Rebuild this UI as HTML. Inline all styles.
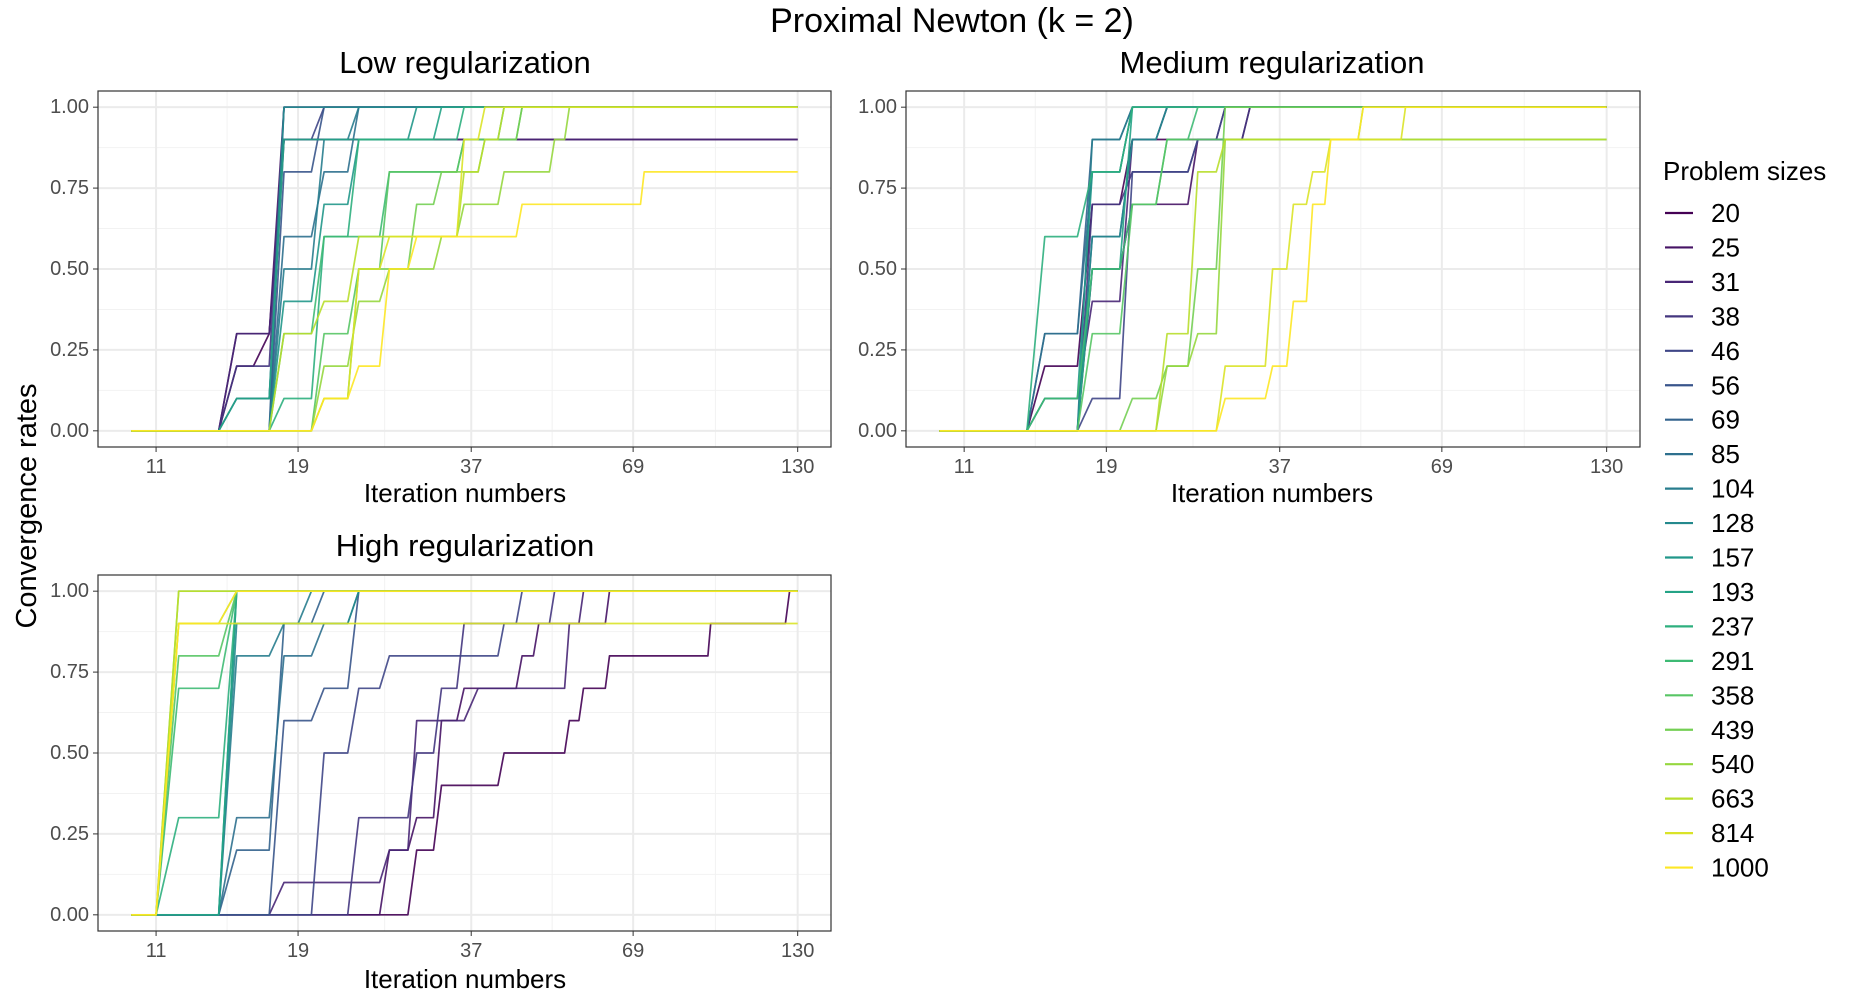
<!DOCTYPE html>
<html><head><meta charset="utf-8"><style>
html,body{margin:0;padding:0;background:#fff;}
svg{display:block;font-family:"Liberation Sans",Arial,sans-serif;}
</style></head><body>
<svg id="chart" width="1866" height="1002" viewBox="0 0 1866 1002" xmlns="http://www.w3.org/2000/svg">
<text x="952" y="32" font-size="34" text-anchor="middle" fill="#000">Proximal Newton (k = 2)</text>
<text transform="translate(27,506) rotate(-90)" font-size="29" text-anchor="middle" dominant-baseline="central" fill="#000">Convergence rates</text>
<g id="panels"></g>
<g id="legend"></g>
</svg>
<script>
const sizes = [20,25,31,38,46,56,69,85,104,128,157,193,237,291,358,439,540,663,814,1000];
const xTicks = [11,19,37,69,130];
const yTicks = [0,0.25,0.5,0.75,1];
const yTickLabels = ["0.00","0.25","0.50","0.75","1.00"];
const panelTitles = ["Low regularization","Medium regularization","High regularization"];

const lowSeries = [
 [[10,0],[14,0],[15,0.2],[16,0.2],[17,0.3],[18,0.9],[130,0.9]],
 [[10,0],[14,0],[15,0.3],[17,0.3],[18,1],[130,1]],
 [[10,0],[14,0],[15,0.3],[17,0.3],[18,0.9],[130,0.9]],
 [[10,0],[14,0],[15,0.2],[17,0.2],[18,1],[130,1]],
 [[10,0],[14,0],[15,0.1],[17,0.1],[18,0.9],[20,0.9],[21,1],[130,1]],
 [[10,0],[17,0],[18,0.8],[20,0.8],[21,1],[130,1]],
 [[10,0],[17,0],[18,1],[130,1]],
 [[10,0],[17,0],[18,0.6],[20,0.6],[21,0.8],[23,0.8],[24,1],[130,1]],
 [[10,0],[17,0],[18,0.5],[20,0.5],[21,0.9],[23,0.9],[24,1],[130,1]],
 [[10,0],[14,0],[15,0.1],[17,0.1],[18,1],[130,1]],
 [[10,0],[17,0],[18,0.4],[20,0.4],[21,0.7],[23,0.7],[24,0.9],[29,0.9],[30,1],[130,1]],
 [[10,0],[14,0],[15,0.1],[17,0.1],[18,0.9],[32,0.9],[33,1],[130,1]],
 [[10,0],[17,0],[18,0.1],[20,0.1],[21,0.6],[23,0.6],[24,0.9],[35,0.9],[36,1],[130,1]],
 [[10,0],[17,0],[18,0.3],[20,0.3],[21,0.6],[26,0.6],[27,0.8],[35,0.8],[36,0.9],[41,0.9],[42,1],[130,1]],
 [[10,0],[20,0],[21,0.3],[23,0.3],[24,0.5],[26,0.5],[27,0.8],[35,0.8],[36,0.9],[44,0.9],[45,1],[130,1]],
 [[10,0],[20,0],[21,0.1],[23,0.1],[24,0.5],[29,0.5],[30,0.7],[32,0.7],[33,0.8],[38,0.8],[39,0.9],[44,0.9],[45,1],[130,1]],
 [[10,0],[20,0],[21,0.2],[23,0.2],[24,0.4],[26,0.4],[27,0.5],[32,0.5],[33,0.6],[35,0.6],[36,0.7],[41,0.7],[42,0.8],[50,0.8],[51,0.9],[53,0.9],[54,1],[130,1]],
 [[10,0],[17,0],[18,0.3],[20,0.3],[21,0.4],[23,0.4],[24,0.6],[35,0.6],[36,0.8],[38,0.8],[39,0.9],[41,0.9],[42,1],[130,1]],
 [[10,0],[20,0],[21,0.1],[23,0.1],[24,0.5],[26,0.5],[27,0.6],[35,0.6],[36,0.9],[38,0.9],[39,1],[130,1]],
 [[10,0],[20,0],[21,0.1],[23,0.1],[24,0.2],[26,0.2],[27,0.5],[29,0.5],[30,0.6],[44,0.6],[45,0.7],[71,0.7],[72,0.8],[130,0.8]]
];
const mediumSeries = [
 [[10,0],[14,0],[15,0.2],[17,0.2],[18,0.7],[20,0.7],[21,0.9],[32,0.9],[33,1],[130,1]],
 [[10,0],[17,0],[18,0.5],[20,0.5],[21,0.7],[26,0.7],[27,0.9],[29,0.9],[30,1],[130,1]],
 [[10,0],[14,0],[15,0.1],[17,0.1],[18,0.4],[20,0.4],[21,0.9],[23,0.9],[24,1],[130,1]],
 [[10,0],[17,0],[18,0.7],[20,0.7],[21,0.8],[26,0.8],[27,0.9],[32,0.9],[33,1],[130,1]],
 [[10,0],[17,0],[18,0.1],[20,0.1],[21,0.8],[26,0.8],[27,0.9],[29,0.9],[30,1],[130,1]],
 [[10,0],[17,0],[18,0.6],[20,0.6],[21,0.9],[23,0.9],[24,1],[130,1]],
 [[10,0],[14,0],[15,0.3],[17,0.3],[18,0.9],[20,0.9],[21,1],[130,1]],
 [[10,0],[14,0],[15,0.3],[17,0.3],[18,0.8],[20,0.8],[21,1],[130,1]],
 [[10,0],[17,0],[18,0.9],[20,0.9],[21,1],[130,1]],
 [[10,0],[17,0],[18,0.6],[20,0.6],[21,0.9],[23,0.9],[24,1],[130,1]],
 [[10,0],[14,0],[15,0.1],[17,0.1],[18,0.8],[20,0.8],[21,1],[130,1]],
 [[10,0],[17,0],[18,0.5],[20,0.5],[21,1],[130,1]],
 [[10,0],[14,0],[15,0.6],[17,0.6],[18,0.8],[20,0.8],[21,1],[130,1]],
 [[10,0],[14,0],[15,0.1],[17,0.1],[18,0.5],[20,0.5],[21,0.7],[23,0.7],[24,0.9],[26,0.9],[27,1],[130,1]],
 [[10,0],[17,0],[18,0.3],[20,0.3],[21,0.7],[23,0.7],[24,0.9],[130,0.9]],
 [[10,0],[20,0],[21,0.1],[23,0.1],[24,0.2],[26,0.2],[27,0.5],[29,0.5],[30,1],[130,1]],
 [[10,0],[23,0],[24,0.2],[26,0.2],[27,0.3],[29,0.3],[30,0.9],[50,0.9],[51,1],[130,1]],
 [[10,0],[23,0],[24,0.3],[26,0.3],[27,0.8],[29,0.8],[30,0.9],[130,0.9]],
 [[10,0],[29,0],[30,0.2],[35,0.2],[36,0.5],[38,0.5],[39,0.7],[41,0.7],[42,0.8],[44,0.8],[45,0.9],[59,0.9],[60,1],[130,1]],
 [[10,0],[29,0],[30,0.1],[35,0.1],[36,0.2],[38,0.2],[39,0.4],[41,0.4],[42,0.7],[44,0.7],[45,0.9],[50,0.9],[51,1],[130,1]]
];
const highSeries = [
 [[10,0],[29,0],[30,0.2],[32,0.2],[33,0.4],[41,0.4],[42,0.5],[53,0.5],[54,0.6],[56,0.6],[57,0.7],[62,0.7],[63,0.8],[92,0.8],[93,0.9],[124,0.9],[126,1],[130,1]],
 [[10,0],[26,0],[27,0.2],[29,0.2],[30,0.3],[32,0.3],[33,0.6],[35,0.6],[36,0.7],[44,0.7],[45,0.8],[47,0.8],[48,0.9],[62,0.9],[63,1],[130,1]],
 [[10,0],[17,0],[18,0.1],[26,0.1],[27,0.2],[29,0.2],[30,0.6],[36,0.6],[38,0.7],[53,0.7],[54,0.9],[56,0.9],[57,1],[130,1]],
 [[10,0],[23,0],[24,0.3],[29,0.3],[30,0.5],[32,0.5],[33,0.7],[35,0.7],[36,0.9],[50,0.9],[51,1],[130,1]],
 [[10,0],[20,0],[21,0.5],[23,0.5],[24,0.7],[26,0.7],[27,0.8],[41,0.8],[42,0.9],[44,0.9],[45,1],[130,1]],
 [[10,0],[17,0],[18,0.6],[20,0.6],[21,0.7],[23,0.7],[24,1],[130,1]],
 [[10,0],[14,0],[15,0.2],[17,0.2],[18,0.9],[20,0.9],[21,1],[130,1]],
 [[10,0],[14,0],[15,0.3],[17,0.3],[18,0.8],[20,0.8],[21,0.9],[23,0.9],[24,1],[130,1]],
 [[10,0],[14,0],[15,0.8],[17,0.8],[18,0.9],[19,0.9],[20,1],[130,1]],
 [[10,0],[14,0],[15,0.9],[23,0.9],[24,1],[130,1]],
 [[10,0],[14,0],[15,1],[130,1]],
 [[10,0],[14,0],[15,1],[130,1]],
 [[10,0],[11,0],[12,0.3],[14,0.3],[15,1],[130,1]],
 [[10,0],[11,0],[12,0.7],[14,0.7],[15,1],[130,1]],
 [[10,0],[11,0],[12,0.8],[14,0.8],[15,1],[130,1]],
 [[10,0],[11,0],[12,0.9],[14,0.9],[15,1],[130,1]],
 [[10,0],[11,0],[12,1],[130,1]],
 [[10,0],[11,0],[12,1],[130,1]],
 [[10,0],[11,0],[12,0.9],[130,0.9]],
 [[10,0],[11,0],[12,0.9],[14,0.9],[15,1],[130,1]]
];
const allSeries = [lowSeries, mediumSeries, highSeries];

const NS = "http://www.w3.org/2000/svg";
const viridis = ["#440154","#482878","#3E4A89","#31688E","#26828E","#1F9E89","#35B779","#6DCD59","#B4DE2C","#FDE725"];
function hex(c){return [parseInt(c.slice(1,3),16),parseInt(c.slice(3,5),16),parseInt(c.slice(5,7),16)];}
function color(i){
  const t = i/(sizes.length-1)*(viridis.length-1);
  const a = Math.floor(t), b = Math.min(a+1, viridis.length-1), f = t-a;
  const A = hex(viridis[a]), B = hex(viridis[b]);
  return "rgb("+A.map((v,k)=>Math.round(v+(B[k]-v)*f)).join(",")+")";
}
function mk(tag, attrs, parent){
  const e = document.createElementNS(NS, tag);
  for (const k in attrs) e.setAttribute(k, attrs[k]);
  parent.appendChild(e); return e;
}
const panelsG = document.getElementById("panels");
const geo = [
  {left:98, right:831, top:91, bottom:447, titleX:465, titleY:73, xlabY:502},
  {left:906, right:1640, top:91, bottom:447, titleX:1272, titleY:73, xlabY:502},
  {left:98, right:831, top:575, bottom:931, titleX:465, titleY:556, xlabY:988}
];
const xMinD = Math.log(10), xMaxD = Math.log(130);
geo.forEach((g, p) => {
  const grp = mk("g", {}, panelsG);
  
  
  const span = xMaxD - xMinD;
  const lo = xMinD - 0.05*span, hi = xMaxD + 0.05*span;
  const X = v => g.left + (Math.log(v) - lo)/(hi - lo)*(g.right - g.left);
  const Y = v => g.bottom - (v + 0.05)/1.1*(g.bottom - g.top);
  mk("rect",{x:g.left,y:g.top,width:g.right-g.left,height:g.bottom-g.top,fill:"#fff"},grp);
  for (let i=0;i<yTicks.length-1;i++){
    const m = (yTicks[i]+yTicks[i+1])/2;
    mk("line",{x1:g.left,x2:g.right,y1:Y(m),y2:Y(m),stroke:"#f2f2f2","stroke-width":1},grp);
  }
  for (let i=0;i<xTicks.length-1;i++){
    const m = Math.sqrt(xTicks[i]*xTicks[i+1]);
    mk("line",{x1:X(m),x2:X(m),y1:g.top,y2:g.bottom,stroke:"#f2f2f2","stroke-width":1},grp);
  }
  yTicks.forEach((t,i) => {
    mk("line",{x1:g.left,x2:g.right,y1:Y(t),y2:Y(t),stroke:"#ebebeb","stroke-width":2},grp);
    mk("line",{x1:g.left-5,x2:g.left,y1:Y(t),y2:Y(t),stroke:"#333","stroke-width":1},grp);
    const tx = mk("text",{x:g.left-9,y:Y(t),"font-size":20,"text-anchor":"end","dominant-baseline":"central",fill:"#4d4d4d"},grp);
    
    
    tx.textContent = yTickLabels[i];
  });
  xTicks.forEach(t => {
    mk("line",{x1:X(t),x2:X(t),y1:g.top,y2:g.bottom,stroke:"#ebebeb","stroke-width":2},grp);
    mk("line",{x1:X(t),x2:X(t),y1:g.bottom,y2:g.bottom+5,stroke:"#333","stroke-width":1},grp);
    const tx = mk("text",{x:X(t),y:g.bottom+26,"font-size":20,"text-anchor":"middle",fill:"#4d4d4d"},grp);
    
    
    tx.textContent = t;
  });
  allSeries[p].forEach((s, i) => {
    const pts = s.map(d => X(d[0]).toFixed(1)+","+Y(d[1]).toFixed(1)).join(" ");
    const pl = mk("polyline",{points:pts,fill:"none",stroke:color(i),"stroke-width":1.7,"stroke-opacity":0.9,"stroke-linejoin":"round"},grp);
    
    
  });
  mk("rect",{x:g.left,y:g.top,width:g.right-g.left,height:g.bottom-g.top,fill:"none",stroke:"#333","stroke-width":1.2},grp);
  const tt = mk("text",{x:g.titleX,y:g.titleY,"font-size":31,"text-anchor":"middle",fill:"#000"},grp);
  
  
  tt.textContent = panelTitles[p];
  const xl = mk("text",{x:g.titleX,y:g.xlabY,"font-size":26,"text-anchor":"middle",fill:"#000"},grp);
  
  
  xl.textContent = "Iteration numbers";
});
const lg = document.getElementById("legend");
const lt = mk("text",{x:1663,y:180,"font-size":26,fill:"#000"},lg);


lt.textContent = "Problem sizes";
sizes.forEach((s,i) => {
  const y = 213 + i*34.45;
  const e = mk("g",{},lg);
  
  
  mk("line",{x1:1665,x2:1693,y1:y,y2:y,stroke:color(i),"stroke-width":2.2},e);
  const t = mk("text",{x:1711,y:y,"font-size":26,"dominant-baseline":"central",fill:"#000"},e);
  t.textContent = s;
});
</script>
</body></html>
